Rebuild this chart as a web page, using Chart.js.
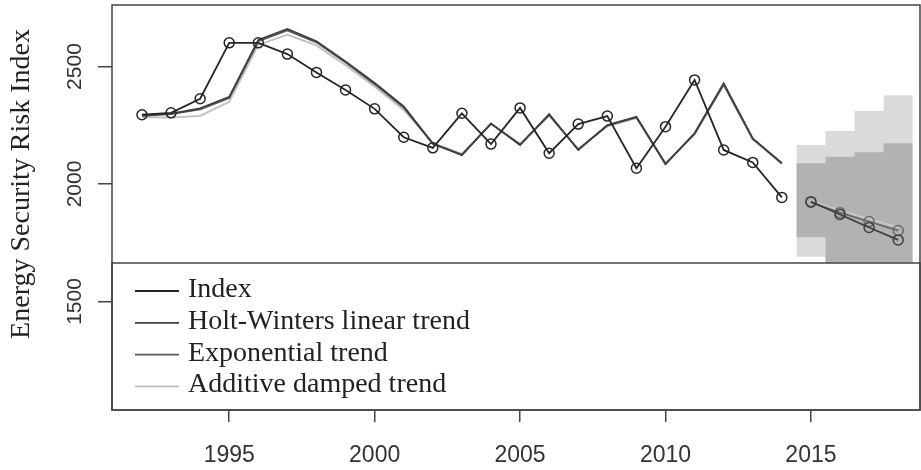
<!DOCTYPE html>
<html>
<head>
<meta charset="utf-8">
<title>Energy Security Risk Index</title>
<script src="https://cdn.jsdelivr.net/npm/chart.js@4.4.1/dist/chart.umd.min.js"></script>
<style>
    html, body { margin: 0; padding: 0; background: #fff; }
    #wrap { width: 921px; height: 470px; }
</style>
</head>
<body>
<div id="wrap"><canvas id="riskChart" width="921" height="470"></canvas></div>
<script>
// Observed index and fitted values, 1992-2014
const years = [1992, 1993, 1994, 1995, 1996, 1997, 1998, 1999, 2000, 2001, 2002, 2003,
               2004, 2005, 2006, 2007, 2008, 2009, 2010, 2011, 2012, 2013, 2014];
const indexValues = [2295, 2303, 2363, 2601, 2601, 2553, 2475, 2400, 2320, 2199, 2154, 2301,
                     2170, 2324, 2131, 2255, 2289, 2067, 2244, 2443, 2145, 2092, 1943];
const holtWintersFit = [2292, 2300, 2322, 2371, 2613, 2660, 2608, 2522, 2430, 2330, 2172, 2123,
                        2258, 2166, 2297, 2145, 2251, 2286, 2084, 2216, 2428, 2194, 2088];
const exponentialFit = [2290, 2298, 2318, 2366, 2608, 2654, 2603, 2517, 2425, 2326, 2170, 2125,
                        2256, 2168, 2294, 2147, 2249, 2284, 2086, 2214, 2424, 2192, 2090];
const dampedFit = [2285, 2283, 2290, 2350, 2592, 2636, 2590, 2505, 2415, 2315, 2175, 2128,
                   2255, 2172, 2290, 2150, 2245, 2280, 2090, 2210, 2420, 2190, 2085];

// Forecasts, 2015-2018
const forecastYears = [2015, 2016, 2017, 2018];
const holtWintersForecast = [1925, 1870, 1815, 1762];
const exponentialForecast = [1922, 1878, 1840, 1802];
const dampedForecast = [1928, 1888, 1852, 1815];

// Prediction intervals (step per forecast year)
const bandEdges = [2014.5, 2015.5, 2016.5, 2017.5, 2018.5];
const outerUpper = [2166, 2226, 2311, 2378];
const outerLower = [1690, 1560, 1450, 1350];
const innerUpper = [2088, 2116, 2135, 2173];
const innerLower = [1773, 1640, 1600, 1560];

const xTicks = [1995, 2000, 2005, 2010, 2015];
const yTicks = [1500, 2000, 2500];
const seriesNames = ['Index', 'Holt-Winters linear trend', 'Exponential trend', 'Additive damped trend'];
const seriesColors = ['#262626', '#3f3f3f', '#585858', '#bdbdbd'];

function toPoints(xs, ys) {
    return xs.map((x, i) => ({ x: x, y: ys[i] }));
}

// last value repeated so the step reaches the right edge
function stepPoints(values) {
    return bandEdges.map((x, i) => ({ x: x, y: values[Math.min(i, values.length - 1)] }));
}

function lineSet(label, points, color, order, withDots) {
    return {
        label: label,
        data: points,
        borderColor: color,
        borderWidth: 1.8,
        backgroundColor: 'transparent',
        pointRadius: withDots ? 5 : 0,
        pointBorderWidth: 1.5,
        pointBorderColor: color,
        pointBackgroundColor: 'transparent',
        fill: false,
        tension: 0,
        order: order
    };
}

function bandSet(points, fillTarget, color, order) {
    return {
        data: points,
        stepped: 'before',
        borderWidth: 0,
        borderColor: 'transparent',
        backgroundColor: color,
        pointRadius: 0,
        fill: fillTarget,
        order: order
    };
}

// Frame, legend box, rotated y labels and y title
const frameAndLabels = {
    id: 'frameAndLabels',
    afterDatasetsDraw(chart) {
        const { ctx, chartArea } = chart;
        const boxTop = 263;

        ctx.save();
        ctx.fillStyle = '#ffffff';
        ctx.fillRect(chartArea.left, boxTop, chartArea.right - chartArea.left, chartArea.bottom - boxTop);
        ctx.strokeStyle = '#444';
        ctx.lineWidth = 1.5;
        ctx.strokeRect(chartArea.left, boxTop, chartArea.right - chartArea.left, chartArea.bottom - boxTop);
        ctx.strokeRect(chartArea.left, chartArea.top, chartArea.right - chartArea.left, chartArea.bottom - chartArea.top);

        ctx.font = '28px "Liberation Serif"';
        ctx.textAlign = 'left';
        ctx.textBaseline = 'alphabetic';
        seriesNames.forEach((name, i) => {
            const baseline = 297 + i * 31.8;
            ctx.strokeStyle = seriesColors[i];
            ctx.lineWidth = 1.8;
            ctx.beginPath();
            ctx.moveTo(135, baseline - 6);
            ctx.lineTo(179, baseline - 6);
            ctx.stroke();
            ctx.fillStyle = '#222';
            ctx.fillText(name, 188, baseline);
        });
        ctx.restore();
    },
    afterDraw(chart) {
        const { ctx, scales } = chart;
        ctx.save();
        ctx.fillStyle = '#333';
        ctx.textAlign = 'center';
        ctx.textBaseline = 'middle';
        ctx.font = '21px "Liberation Sans"';
        yTicks.forEach(v => {
            ctx.save();
            ctx.translate(75, scales.y.getPixelForValue(v));
            ctx.rotate(-Math.PI / 2);
            ctx.fillText(String(v), 0, 0);
            ctx.restore();
        });

        ctx.fillStyle = '#222';
        ctx.font = '28px "Liberation Serif"';
        ctx.translate(22, 184);
        ctx.rotate(-Math.PI / 2);
        ctx.fillText('Energy Security Risk Index', 0, 0);
        ctx.restore();
    }
};

document.addEventListener('DOMContentLoaded', function() {
    const ctx = document.getElementById('riskChart').getContext('2d');

    new Chart(ctx, {
        type: 'line',
        data: {
            datasets: [
                lineSet('Index', toPoints(years, indexValues), seriesColors[0], 0, true),
                lineSet('Holt-Winters linear trend', toPoints(years, holtWintersFit), seriesColors[1], 1, false),
                lineSet('Exponential trend', toPoints(years, exponentialFit), seriesColors[2], 2, false),
                lineSet('Additive damped trend', toPoints(years, dampedFit), seriesColors[3], 3, false),
                lineSet('HW forecast', toPoints(forecastYears, holtWintersForecast), seriesColors[1], 1, true),
                lineSet('Exp forecast', toPoints(forecastYears, exponentialForecast), '#6a6a6a', 2, true),
                lineSet('Damped forecast', toPoints(forecastYears, dampedForecast), '#c8c8c8', 3, false),
                bandSet(stepPoints(innerUpper), '+1', '#b2b2b2', 9),
                bandSet(stepPoints(innerLower), false, 'transparent', 9),
                bandSet(stepPoints(outerUpper), '+1', '#dadada', 10),
                bandSet(stepPoints(outerLower), false, 'transparent', 10)
            ]
        },
        options: {
            responsive: false,
            animation: false,
            devicePixelRatio: 1,
            layout: {
                autoPadding: false,
                padding: { left: 0, top: 5, right: 1, bottom: 0 }
            },
            plugins: {
                legend: { display: false },
                tooltip: { enabled: false }
            },
            scales: {
                x: {
                    type: 'linear',
                    min: 1990.97,
                    max: 2018.75,
                    afterBuildTicks: scale => { scale.ticks = xTicks.map(v => ({ value: v })); },
                    afterFit: scale => {
                        scale.height = 60;
                        scale.paddingLeft = 0;
                        scale.paddingRight = 0;
                    },
                    border: { display: false },
                    grid: {
                        drawOnChartArea: false,
                        drawTicks: true,
                        tickLength: 12,
                        color: '#444',
                        lineWidth: 1.5
                    },
                    ticks: {
                        autoSkip: false,
                        maxRotation: 0,
                        padding: 20,
                        color: '#333',
                        font: { family: 'Liberation Sans', size: 23 },
                        callback: v => String(v)
                    }
                },
                y: {
                    type: 'linear',
                    min: 1038,
                    max: 2762,
                    afterBuildTicks: scale => { scale.ticks = yTicks.map(v => ({ value: v })); },
                    afterFit: scale => { scale.width = 112; },
                    border: { display: false },
                    grid: {
                        drawOnChartArea: false,
                        drawTicks: true,
                        tickLength: 14,
                        color: '#444',
                        lineWidth: 1.5
                    },
                    ticks: { display: false }
                }
            }
        },
        plugins: [frameAndLabels]
    });
});
</script>
</body>
</html>
